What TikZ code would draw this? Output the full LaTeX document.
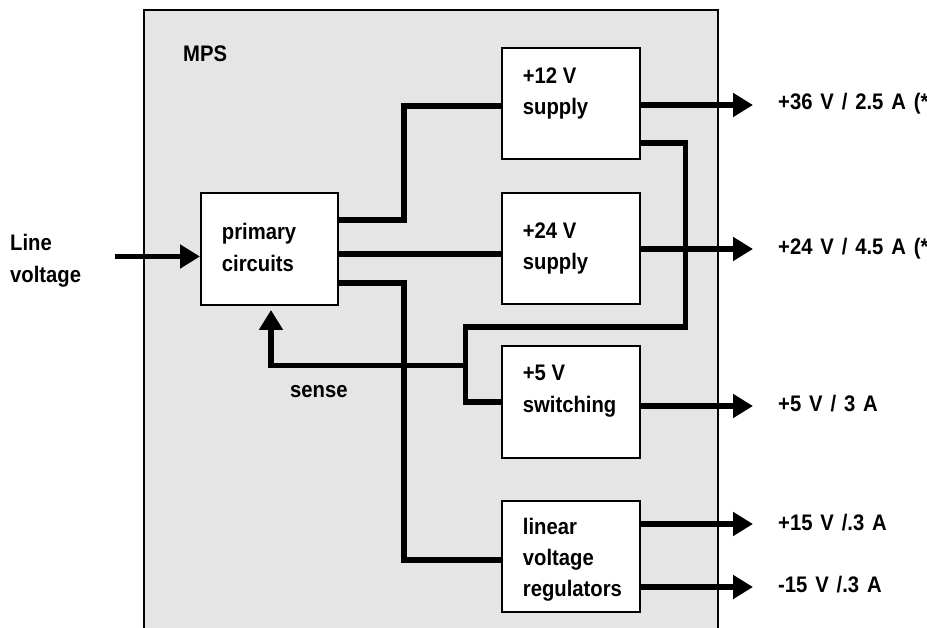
\documentclass[tikz,border=0pt]{standalone}
\usepackage{fontspec}
\setmainfont{Liberation Sans}[FakeStretch=0.9]
\newfontfamily\lblfont{Liberation Sans}[FakeStretch=0.9, WordSpace=1.4]
\usetikzlibrary{arrows.meta}
\definecolor{panel}{HTML}{E5E5E5}
\tikzset{
  txt/.style={anchor=base west, inner sep=0pt, font=\fontsize{22.5}{27}\selectfont\bfseries},
  outlbl/.style={txt, font=\lblfont\fontsize{22.5}{27}\selectfont\bfseries},
  blk/.style={draw=black, fill=white, line width=2pt, minimum width=138pt, minimum height=111pt, inner sep=0pt},
  wire/.style={line width=5.5pt},
  arr/.style={wire, -{Triangle[length=20pt,width=23pt]}}
}
\begin{document}
\begin{tikzpicture}[x=1pt,y=-1pt]
\useasboundingbox (0,0) rectangle (927,628);
\clip (0,0) rectangle (927,628);
% panel
\fill[panel] (143.5,10) rectangle (717.5,640);
\draw[line width=2pt] (143.5,640) -- (143.5,10) -- (717.5,10) -- (717.5,640);
\node[txt] (mps) at (183,62) {MPS};
% blocks
\node[blk, minimum width=137pt, minimum height=112pt] (prim) at (269.5,249) {};
\node[blk] (s12) at (571,103.5) {};
\node[blk] (s24) at (571,249) {};
\node[blk] (s5) at (571,402) {};
\node[blk] (lin) at (571,556.5) {};
% junction and free ends
\coordinate (J) at (465.5,365.5);
\coordinate (inp) at (115,256.5);
\coordinate (o1) at (753,105);
\coordinate (o2) at (753,249);
\coordinate (o3) at (753,406);
\coordinate (o4) at (753,524);
\coordinate (o5) at (753,587);
% wires
\draw[wire] ([yshift=29pt]prim.east) -| (404,106) -- (s12.west |- 0,106);
\draw[wire] ([yshift=-5pt]prim.east) -- (s24.west |- 0,254);
\draw[wire] ([yshift=-34pt]prim.east) -| (404,560) -- (lin.west |- 0,560);
\draw[wire] ([yshift=-39.5pt]s12.east) -| (685.5,327) -| (465.5,402) -- (s5.west);
\draw[arr] (J) -| ([yshift=-4pt]prim.south -| 271,0);
% blocks drawn again over the wire ends
\node[blk, minimum width=137pt, minimum height=112pt] at (prim) {};
\node[blk] at (s12) {};
\node[blk] at (s24) {};
\node[blk] at (s5) {};
\node[blk] at (lin) {};
% input and outputs
\draw[arr] (inp) -- (prim.west |- inp);
\draw[arr] (s12.east |- o1) -- (o1);
\draw[arr] (s24.east |- o2) -- (o2);
\draw[arr] (s5.east |- o3) -- (o3);
\draw[arr] (lin.east |- o4) -- (o4);
\draw[arr] (lin.east |- o5) -- (o5);
% texts
\node[txt] (t1) at (221.7,240) {primary};
\node[txt] (t2) at (221.7,271.5) {circuits};
\node[txt] (t3) at (522.7,84) {+12 V};
\node[txt] (t4) at (522.7,115) {supply};
\node[txt] (t5) at (522.7,239) {+24 V};
\node[txt] (t6) at (522.7,269.5) {supply};
\node[txt] (t7) at (522.7,381) {+5 V};
\node[txt] (t8) at (522.7,412.5) {switching};
\node[txt] (t9) at (522.7,534) {linear};
\node[txt] (t10) at (522.7,565) {voltage};
\node[txt] (t11) at (522.7,596) {regulators};
\node[txt] (sense) at (290,397.5) {sense};
\node[txt] (lv1) at (10,251) {Line};
\node[txt] (lv2) at (10,283) {voltage};
\node[outlbl] (l1) at (778,110) {+36 V / 2.5 A (*};
\node[outlbl] (l2) at (778,255) {+24 V / 4.5 A (*};
\node[outlbl] (l3) at (778,412) {+5 V / 3 A};
\node[outlbl] (l4) at (778,530) {+15 V /.3 A};
\node[outlbl] (l5) at (778,592) {-15 V /.3 A};
\end{tikzpicture}
\end{document}
